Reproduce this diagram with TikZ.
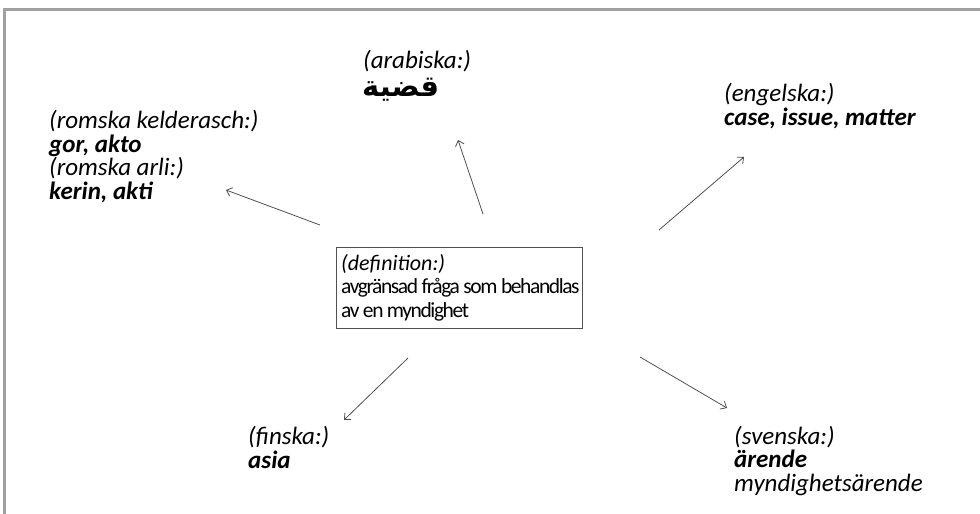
\documentclass[tikz,border=0pt]{standalone}
\usepackage{fontspec}
\setmainfont{Carlito}
\newfontfamily\arabicfont[Script=Arabic]{DejaVu Sans}
\newfontfamily\boxfont[LetterSpace=-6.5]{Carlito}
\TeXXeTstate=1
\usetikzlibrary{arrows.meta,positioning,calc}
\definecolor{framegray}{HTML}{A0A0A0}
\definecolor{linegray}{HTML}{505050}
\tikzset{
  lbl/.style={
    anchor=base west,
    inner sep=0pt,
    align=left,
    text=black,
    font=\fontsize{25}{23.5}\selectfont,
  },
  defbox/.style={
    draw=linegray,
    line width=0.8pt,
    rectangle,
    minimum width=246pt,
    minimum height=81pt,
    anchor=north west,
  },
  arr/.style={
    draw=linegray,
    line width=0.8pt,
    -{Straight Barb[length=5pt,width=9pt]},
  },
}

\begin{document}
\begin{tikzpicture}[x=1pt,y=-1pt]
        \useasboundingbox (0,0) rectangle (980,514);
        % frame (top and left edge only)
        \draw[framegray,line width=2.7pt] (980,9.7) -- (4.5,9.7) -- (4.5,514);

        % center box (base anchor = last line)
        \node (def) [defbox] at (336,247) {};
        \node (deftext) [lbl,font=\fontsize{21.5}{23.5}\selectfont] at (341,317) {{\fontsize{22}{23.5}\selectfont\textit{(definition:)}}\\{\boxfont avgränsad fråga som behandlas}\\{\boxfont av en myndighet}};

        % languages
        \node (arab) [lbl] at (363,68) {\textit{(arabiska:)}};
        \node (arabw) [lbl,font=\fontsize{29}{29}\selectfont\bfseries] at (362,96) {\arabicfont\beginR قضية\endR};

        \node (roma) [lbl] at (49,199) {\textit{(romska kelderasch:)}\\\textbf{\textit{gor, akto}}\\\textit{(romska arli:)}\\\textbf{\textit{kerin, akti}}};

        \node (eng) [lbl] at (724,125) {\textit{(engelska:)}\\\textbf{\textit{case, issue, matter}}};

        \node (fin) [lbl] at (248,468) {\textit{(finska:)}\\\textbf{\textit{asia}}};

        \node (sve) [lbl] at (734,491) {\textit{(svenska:)}\\\textbf{\textit{ärende}}\\\textit{myndighetsärende}};

        % arrow ends
        \coordinate (r0) at (320,225);  \coordinate (r1) at (226,190);
        \coordinate (a0) at (483,214);  \coordinate (a1) at (458,140);
        \coordinate (e0) at (659,230);  \coordinate (e1) at (744,157);
        \coordinate (f0) at (408,358);  \coordinate (f1) at (344,420);
        \coordinate (s0) at (640,357);  \coordinate (s1) at (727,408);

        \draw[arr] (r0) -- (r1);
        \draw[arr] (a0) -- (a1);
        \draw[arr] (e0) -- (e1);
        \draw[arr] (f0) -- (f1);
        \draw[arr] (s0) -- (s1);

      \end{tikzpicture}
\end{document}
